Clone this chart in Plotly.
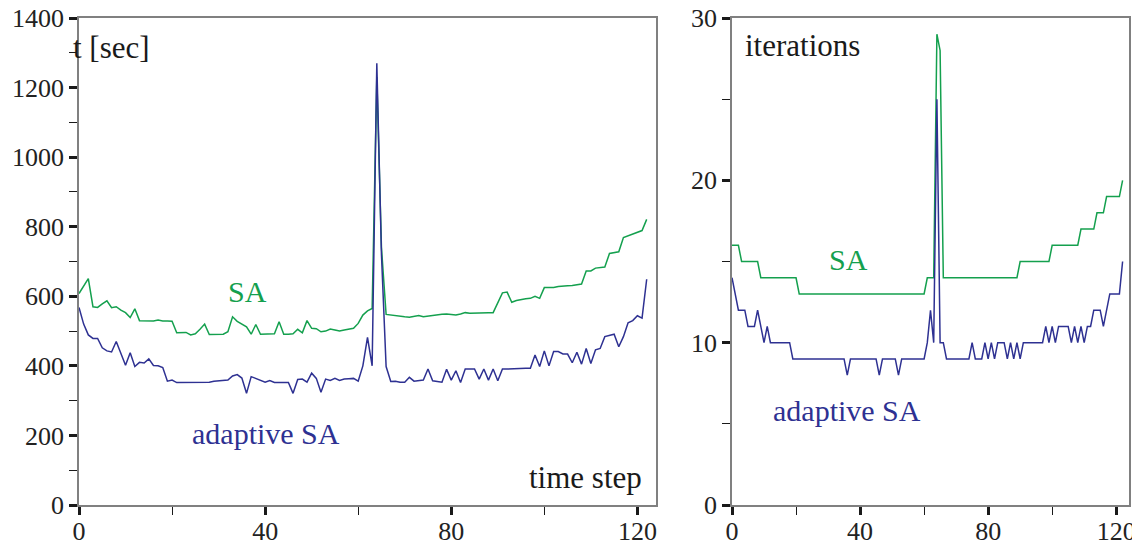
import plotly.graph_objects as go
from plotly.subplots import make_subplots

time_steps = list(range(0, 123))

sa_time = [608, 630, 651, 570, 568, 578, 587, 567, 570, 560, 553, 539, 564, 530, 530, 530, 529, 532, 529, 529,
           528, 495, 495, 496, 489, 492, 505, 520, 490, 490, 490, 491, 498, 541, 528, 519, 512, 491, 519, 491,
           491, 491, 492, 527, 491, 491, 492, 505, 495, 530, 508, 507, 498, 500, 506, 503, 500, 503, 505, 508,
           522, 546, 558, 565, 1230, 740, 548, 546, 543, 542, 541, 540, 542, 545, 541, 543, 546, 547, 548, 549,
           547, 546, 549, 553, 551, 552, 553, 552, 553, 553, 580, 610, 612, 583, 588, 591, 593, 594, 600, 594,
           625, 625, 625, 628, 630, 630, 631, 632, 635, 673, 673, 681, 682, 684, 723, 726, 728, 769, 774, 778,
           783, 789, 821]

asa_time = [568, 520, 489, 479, 479, 452, 443, 440, 470, 436, 402, 438, 398, 410, 408, 420, 401, 400, 395, 356,
            359, 352, 352, 352, 353, 354, 353, 352, 353, 356, 357, 358, 359, 371, 375, 365, 321, 369, 364, 358,
            353, 358, 352, 352, 352, 352, 321, 361, 362, 353, 379, 364, 324, 362, 358, 364, 358, 362, 363, 364,
            356, 400, 482, 400, 1270, 720, 398, 355, 356, 353, 353, 367, 356, 357, 359, 391, 357, 355, 353, 390,
            359, 386, 352, 391, 391, 391, 362, 391, 359, 391, 357, 391, 391, 392, 392, 392, 393, 393, 431, 398,
            443, 400, 441, 441, 434, 434, 409, 439, 405, 450, 407, 446, 450, 484, 487, 491, 455, 484, 524, 530,
            544, 537, 649]

sa_iter = [16, 16, 16, 15, 15, 15, 15, 15, 15, 14, 14, 14, 14, 14, 14, 14, 14, 14, 14, 14,
           14, 13, 13, 13, 13, 13, 13, 13, 13, 13, 13, 13, 13, 13, 13, 13, 13, 13, 13, 13,
           13, 13, 13, 13, 13, 13, 13, 13, 13, 13, 13, 13, 13, 13, 13, 13, 13, 13, 13, 13,
           13, 14, 14, 14, 29, 28, 14, 14, 14, 14, 14, 14, 14, 14, 14, 14, 14, 14, 14, 14,
           14, 14, 14, 14, 14, 14, 14, 14, 14, 14, 15, 15, 15, 15, 15, 15, 15, 15, 15, 15,
           16, 16, 16, 16, 16, 16, 16, 16, 16, 17, 17, 17, 17, 17, 18, 18, 18, 19, 19, 19,
           19, 19, 20]

asa_iter = [14, 13, 12, 12, 12, 11, 11, 11, 12, 11, 10, 11, 10, 10, 10, 10, 10, 10, 10, 9,
            9, 9, 9, 9, 9, 9, 9, 9, 9, 9, 9, 9, 9, 9, 9, 9, 8, 9, 9, 9,
            9, 9, 9, 9, 9, 9, 8, 9, 9, 9, 9, 9, 8, 9, 9, 9, 9, 9, 9, 9,
            9, 10, 12, 10, 25, 10, 10, 9, 9, 9, 9, 9, 9, 9, 9, 10, 9, 9, 9, 10,
            9, 10, 9, 10, 10, 10, 9, 10, 9, 10, 9, 10, 10, 10, 10, 10, 10, 10, 11, 10,
            11, 10, 11, 11, 11, 11, 10, 11, 10, 11, 10, 11, 11, 12, 12, 12, 11, 12, 13, 13,
            13, 13, 15]

x_ticks = [0, 40, 80, 120]
y1_ticks = [0, 200, 400, 600, 800, 1000, 1200, 1400]
y2_ticks = [0, 10, 20, 30]

GREEN = "#14a04e"
BLUE = "#2e3192"
FONT = "Liberation Serif"
W, H = 1140, 548
OFF = 8  # page body margin


def px(x):
    return (x - OFF) / W


def py(y):
    return 1 - (y - OFF) / H


fig = make_subplots(rows=1, cols=2)

fig.add_trace(go.Scatter(x=time_steps, y=sa_time, mode="lines",
                         line=dict(color=GREEN, width=1.5)), row=1, col=1)
fig.add_trace(go.Scatter(x=time_steps, y=asa_time, mode="lines",
                         line=dict(color=BLUE, width=1.5)), row=1, col=1)
fig.add_trace(go.Scatter(x=time_steps, y=sa_iter, mode="lines",
                         line=dict(color=GREEN, width=1.5)), row=1, col=2)
fig.add_trace(go.Scatter(x=time_steps, y=asa_iter, mode="lines",
                         line=dict(color=BLUE, width=1.5)), row=1, col=2)

common = dict(showline=True, linecolor="#808080", linewidth=1.5, mirror=True,
              ticks="outside", ticklen=8, tickwidth=3, tickcolor="#1a1a1a",
              showgrid=False, zeroline=False, automargin=False,
              ticklabeloverflow="allow",
              tickfont=dict(family=FONT, size=26, color="#222222"))

yd = [py(505), py(18)]
fig.update_xaxes(common, range=[0, 124], tickvals=x_ticks, ticklabelstandoff=-6,
                 minor=dict(dtick=20, tick0=0, ticks="outside", ticklen=8, tickwidth=1, tickcolor="#1a1a1a"))
fig.update_xaxes(domain=[px(79), px(656)], row=1, col=1)
fig.update_xaxes(domain=[px(732), px(1129)], row=1, col=2)
fig.update_yaxes(common, domain=yd)
fig.update_yaxes(range=[0, 1400], tickvals=y1_ticks,
                 minor=dict(dtick=100, tick0=0, ticks="outside", ticklen=8, tickwidth=1, tickcolor="#1a1a1a"),
                 row=1, col=1)
fig.update_yaxes(range=[0, 30], tickvals=y2_ticks,
                 minor=dict(dtick=5, tick0=0, ticks="outside", ticklen=8, tickwidth=1, tickcolor="#1a1a1a"),
                 row=1, col=2)


def ann(text, x, y, xanchor, color, size):
    fig.add_annotation(text=text, x=px(x), y=py(y), xref="paper", yref="paper",
                       xanchor=xanchor, yanchor="middle", showarrow=False,
                       font=dict(family=FONT, size=size, color=color))


ann("t [sec]", 71, 47, "left", "#1a1a1a", 31)
ann("time step", 644, 477, "right", "#1a1a1a", 31)
ann("SA", 247, 291, "center", GREEN, 30)
ann("adaptive SA", 266, 433, "center", BLUE, 30)
ann("iterations", 743, 45, "left", "#1a1a1a", 31)
ann("SA", 848, 259, "center", GREEN, 30)
ann("adaptive SA", 847, 410, "center", BLUE, 30)

fig.update_layout(width=W, height=H, autosize=False, showlegend=False,
                  margin=dict(l=0, r=0, t=0, b=0, autoexpand=False),
                  paper_bgcolor="white", plot_bgcolor="white")

fig.write_html("out.html")
